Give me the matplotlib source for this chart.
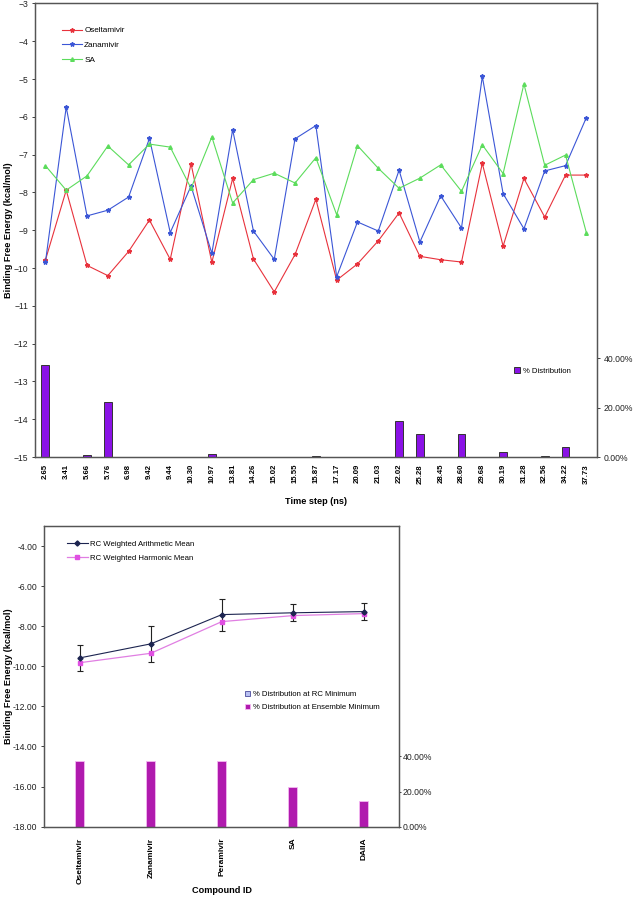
import numpy as np
import matplotlib
matplotlib.use('Agg')
import matplotlib.pyplot as plt
from matplotlib.patches import Patch
from matplotlib.lines import Line2D

plt.rcParams['font.family'] = ['Liberation Sans', 'DejaVu Sans']

# ---- top chart data (binding energy along the trajectory) ----
time_steps = ['2.65', '3.41', '5.66', '5.76', '6.98', '9.42', '9.44', '10.30', '10.97',
              '13.81', '14.26', '15.02', '15.55', '15.87', '17.17', '20.09', '21.03',
              '22.02', '25.28', '28.45', '28.60', '29.68', '30.19', '31.28', '32.56',
              '34.22', '37.73']
oseltamivir = [-9.79, -7.94, -9.93, -10.20, -9.56, -8.73, -9.77, -7.24, -9.85, -7.63,
               -9.76, -10.63, -9.64, -8.18, -10.32, -9.89, -9.28, -8.54, -9.69, -9.78,
               -9.84, -7.23, -9.42, -7.63, -8.65, -7.54, -7.54]
zanamivir = [-9.85, -5.74, -8.62, -8.47, -8.12, -6.57, -9.06, -7.83, -9.61, -6.34,
             -9.02, -9.77, -6.58, -6.23, -10.23, -8.78, -9.02, -7.41, -9.31, -8.09,
             -8.94, -4.93, -8.03, -8.96, -7.43, -7.29, -6.02]
sa = [-7.29, -7.94, -7.56, -6.77, -7.27, -6.72, -6.80, -7.89, -6.53, -8.28,
      -7.66, -7.49, -7.75, -7.08, -8.59, -6.76, -7.36, -7.89, -7.62, -7.27,
      -7.97, -6.74, -7.50, -5.13, -7.28, -7.01, -9.06]
distribution = [37.3, 0, 0.8, 22.4, 0, 0, 0, 0, 1.2, 0, 0, 0, 0, 0.5, 0, 0, 0,
                14.7, 9.3, 0, 9.3, 0, 2.0, 0, 0.5, 4.2, 0]

# ---- bottom chart data (per compound) ----
compounds = ['Oseltamivir', 'Zanamivir', 'Peramivir', 'SA', 'DAIIA']
arith_mean = [-9.58, -8.88, -7.42, -7.33, -7.27]
arith_err = [0.63, 0.90, 0.80, 0.42, 0.44]
harm_mean = [-9.82, -9.35, -7.77, -7.47, -7.37]
dist_ensemble = [37.5, 37.5, 37.5, 22.3, 14.8]

fig = plt.figure(figsize=(6.33, 8.97), dpi=100)
fs = 5.6
frame = '#555555'

# ================= top chart =================
ax = fig.add_axes([0.0553, 0.4905, 0.8874, 0.5056])
x = np.arange(len(time_steps))
ax2 = ax.twinx()
ax2.bar(x, distribution, width=0.38, color='#8A12E6', edgecolor='#333333', linewidth=0.7,
        label='% Distribution', zorder=2)
ax2.set_ylim(0, 183.7)
ax2.set_yticks([0, 20, 40])
ax2.set_yticklabels(['0.00%', '20.00%', '40.00%'], fontsize=fs + 0.6)
ax2.tick_params(axis='y', length=2, width=0.6, pad=3, colors='#222222')
ax2.legend(loc='center left', bbox_to_anchor=(0.84, 0.19), frameon=False, fontsize=fs,
           handlelength=0.8, handleheight=0.8, handletextpad=0.4)

ax.set_zorder(ax2.get_zorder() + 1)
ax.patch.set_visible(False)
ax.plot(x, oseltamivir, color='#E8323C', lw=0.8, marker='*', ms=3.2, label='Oseltamivir')
ax.plot(x, zanamivir, color='#3B56D6', lw=0.8, marker='*', ms=3.2, label='Zanamivir')
ax.plot(x, sa, color='#5CDC5C', lw=0.8, marker='^', ms=2.6, label='SA')
ax.set_xlim(-0.5, len(time_steps) - 0.5)
ax.set_ylim(-15, -3)
ax.set_yticks(np.arange(-15, -2, 1))
ax.tick_params(axis='y', labelsize=fs + 0.6, length=2, width=0.6, pad=3, colors='#222222')
ax.set_xticks(x)
ax.set_xticklabels(time_steps, rotation=90, fontsize=fs, fontweight='bold')
ax.tick_params(axis='x', length=0, pad=5)
ax.set_xlabel('Time step (ns)', fontsize=6.6, fontweight='bold')
ax.xaxis.set_label_coords(0.5, -0.088)
ax.set_ylabel('Binding Free Energy (kcal/mol)', fontsize=6.6, fontweight='bold')
ax.yaxis.set_label_coords(-0.040, 0.5)
ax.legend(loc='upper left', bbox_to_anchor=(0.035, 0.965), frameon=False, fontsize=fs + 0.3,
          handlelength=2.4, labelspacing=0.85, handletextpad=0.3)
for a in (ax, ax2):
    for s in a.spines.values():
        s.set_color(frame)
        s.set_linewidth(0.9)

# ================= bottom chart =================
bx = fig.add_axes([0.070, 0.0784, 0.5608, 0.3352])
xc = np.arange(len(compounds))
bx2 = bx.twinx()
bx2.bar(xc, dist_ensemble, width=0.13, color='#B01AAE', edgecolor='#F4B8F2', linewidth=0.6,
        zorder=2)
bx2.set_ylim(0, 171)
bx2.set_yticks([0, 20, 40])
bx2.set_yticklabels(['0.00%', '20.00%', '40.00%'], fontsize=fs + 0.6)
bx2.tick_params(axis='y', length=1.5, width=0.6, pad=1, colors='#222222')
handles2 = [Patch(facecolor='#B8C0F2', edgecolor='#4A4A9A', linewidth=0.6),
            Patch(facecolor='#B01AAE', edgecolor='#F4B8F2', linewidth=0.6)]
bx2.legend(handles2, ['% Distribution at RC Minimum', '% Distribution at Ensemble Minimum'],
           loc='center left', bbox_to_anchor=(0.545, 0.418), frameon=False, fontsize=fs,
           handlelength=0.7, handleheight=0.7, handletextpad=0.4, labelspacing=0.75)

bx.set_zorder(bx2.get_zorder() + 1)
bx.patch.set_visible(False)
bx.errorbar(xc, arith_mean, yerr=arith_err, color='#1C2450', lw=0.8, marker='D', ms=2.6,
            ecolor='#222222', elinewidth=0.8, capsize=2.5, capthick=0.8)
bx.plot(xc, harm_mean, color='#E07EE2', lw=0.9, marker='s', ms=3.2, mfc='#E050E2',
        mec='#E050E2')
bx.set_xlim(-0.5, len(compounds) - 0.5)
bx.set_ylim(-18, -3)
bx.set_yticks(np.arange(-18, -3, 2))
bx.set_yticklabels(['%.2f' % v for v in np.arange(-18, -3, 2)])
bx.tick_params(axis='y', labelsize=fs + 0.6, length=2, width=0.6, pad=3, colors='#222222')
bx.set_xticks(xc)
bx.set_xticklabels(compounds, rotation=90, fontsize=fs + 0.4, fontweight='bold')
bx.tick_params(axis='x', length=0, pad=8)
bx.set_xlabel('Compound ID', fontsize=6.6, fontweight='bold')
bx.xaxis.set_label_coords(0.5, -0.197)
bx.set_ylabel('Binding Free Energy (kcal/mol)', fontsize=6.6, fontweight='bold')
bx.yaxis.set_label_coords(-0.0896, 0.5)
handles1 = [Line2D([], [], color='#1C2450', lw=0.8, marker='D', ms=2.6),
            Line2D([], [], color='#E07EE2', lw=0.9, marker='s', ms=3.2, mfc='#E050E2',
                   mec='#E050E2')]
bx.legend(handles1, ['RC Weighted Arithmetic Mean', 'RC Weighted Harmonic Mean'],
          loc='upper left', bbox_to_anchor=(0.045, 0.975), frameon=False, fontsize=fs,
          handlelength=2.6, labelspacing=0.8, handletextpad=0.3)
for a in (bx, bx2):
    for s in a.spines.values():
        s.set_color(frame)
        s.set_linewidth(0.9)

fig.savefig('out.png', dpi=100)
